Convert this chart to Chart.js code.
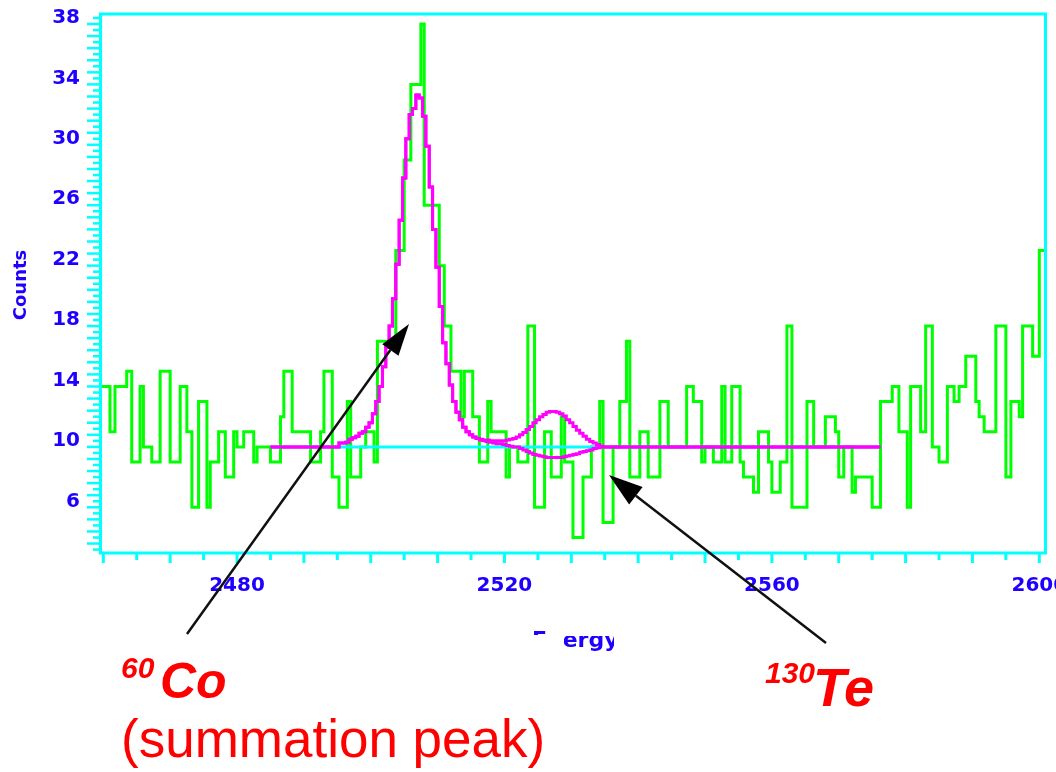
<!DOCTYPE html>
<html>
<head>
<meta charset="utf-8">
<script src="https://cdn.jsdelivr.net/npm/chart.js@4.4.1/dist/chart.umd.min.js"></script>
<style>
  html, body { margin: 0; padding: 0; background: #fff; }
  canvas { display: block; }
</style>
</head>
<body>
<canvas id="spectrum" width="1056" height="772"></canvas>
<script>
// measured counts: each run starts at an energy (keV) and keeps its count up to the next start
const runStart = [
  2459.5, 2461.0, 2461.75, 2463.5, 2464.25, 2465.5, 2466.0, 2467.25, 2468.5, 2470.0,
  2471.5, 2472.5, 2473.25, 2474.25, 2475.5, 2476.0, 2477.25, 2478.25, 2479.5, 2480.0,
  2481.0, 2482.5, 2483.0, 2485.0, 2486.5, 2487.0, 2488.25, 2491.0, 2492.5, 2493.0,
  2494.25, 2495.25, 2496.5, 2497.0, 2498.5, 2499.25, 2500.5, 2501.0, 2503.75, 2505.0,
  2506.0, 2507.5, 2508.0, 2510.25, 2511.0, 2512.0, 2513.5, 2514.0, 2515.25, 2516.25,
  2517.5, 2518.0, 2520.25, 2520.75, 2522.0, 2523.5, 2524.5, 2526.0, 2527.0, 2528.5,
  2529.0, 2530.25, 2531.75, 2533.0, 2534.25, 2534.75, 2536.25, 2537.25, 2538.25, 2538.75,
  2540.25, 2541.5, 2543.25, 2544.5, 2547.25, 2548.25, 2549.5, 2550.0, 2551.25, 2552.5,
  2553.0, 2554.0, 2555.25, 2555.75, 2557.25, 2558.0, 2559.5, 2560.0, 2561.25, 2562.25,
  2563.0, 2565.25, 2566.25, 2568.0, 2569.5, 2570.0, 2570.75, 2572.0, 2572.5, 2575.0,
  2576.25, 2578.0, 2579.0, 2580.25, 2580.75, 2582.25, 2583.0, 2584.0, 2585.0, 2586.25,
  2587.25, 2588.0, 2589.0, 2590.5, 2591.0, 2591.75, 2593.5, 2595.0, 2595.75, 2597.0,
  2597.5, 2599.0, 2600.0
];
const runCounts = [
  14, 11, 14, 15, 9, 14, 10, 9, 15, 9,
  14, 11, 6, 13, 6, 9, 11, 8, 11, 10,
  11, 9, 10, 9, 12, 15, 11, 9, 11, 15,
  8, 6, 13, 8, 10, 11, 9, 17, 23, 29,
  34, 38, 26, 22, 18, 15, 12, 15, 12, 9,
  13, 11, 8, 10, 9, 18, 6, 11, 8, 12,
  9, 4, 8, 10, 13, 5, 10, 13, 17, 8,
  11, 8, 13, 10, 14, 13, 9, 10, 9, 14,
  9, 14, 9, 8, 7, 11, 9, 7, 9, 18,
  6, 13, 10, 12, 11, 8, 10, 7, 8, 6,
  13, 14, 11, 6, 14, 11, 18, 10, 9, 14,
  13, 14, 16, 13, 12, 11, 18, 8, 13, 12,
  18, 16, 23
];
const runEnd = 2601.0;

// fitted line shape: flat background over fitRange, 0.5 keV bins around the peaks
const fitRange = [2485.0, 2576.25];
const fitBackground = 10;
const fitPeakStart = 2495.25;
const fitBinWidth = 0.5;
const fitTeUp = [
  10.25, 10.25, 10.3, 10.5, 10.6, 10.7, 10.9, 11.0, 11.3, 11.6,
  12.2, 13.0, 14.0, 15.3, 16.6, 18.0, 19.8, 22.1, 25.0, 27.8,
  30.4, 32.0, 32.4, 33.3, 33.1, 31.9, 29.9, 27.2, 24.4, 21.9,
  19.3, 16.9, 15.5, 14.1, 13.0, 12.3, 11.8, 11.3, 11.0, 10.8,
  10.65, 10.55, 10.5, 10.45, 10.45, 10.4, 10.4, 10.4, 10.4, 10.4,
  10.45, 10.5, 10.55, 10.65, 10.8, 10.95, 11.15, 11.35, 11.6, 11.8,
  12.0, 12.15, 12.3, 12.35, 12.35, 12.3, 12.2, 12.05, 11.8, 11.6,
  11.35, 11.1, 10.9, 10.7, 10.5, 10.35, 10.25, 10.15, 10.05
];
const fitTeDown = [
  10.25, 10.25, 10.3, 10.5, 10.6, 10.7, 10.9, 11.0, 11.3, 11.6,
  12.2, 13.0, 14.0, 15.3, 16.6, 18.0, 19.8, 22.1, 25.0, 27.8,
  30.4, 32.0, 32.4, 33.3, 33.1, 31.9, 29.9, 27.2, 24.4, 21.9,
  19.3, 16.9, 15.5, 14.1, 13.0, 12.3, 11.8, 11.3, 11.0, 10.8,
  10.65, 10.55, 10.45, 10.4, 10.35, 10.3, 10.25, 10.2, 10.2, 10.15,
  10.1, 10.05, 10.0, 10.0, 9.9, 9.8, 9.7, 9.6, 9.5, 9.45,
  9.4, 9.35, 9.3, 9.3, 9.3, 9.3, 9.3, 9.35, 9.4, 9.45,
  9.5, 9.55, 9.65, 9.7, 9.75, 9.8, 9.9, 9.95, 10.0
];

const xTickLabels = [2480, 2520, 2560, 2600];
const yTickLabels = [6, 10, 14, 18, 22, 26, 30, 34, 38];

const CYAN = '#00ffff';
const BLUE = '#1f00ff';

function histPoints() {
  const pts = runStart.map((e, i) => ({ x: e, y: runCounts[i] }));
  pts.push({ x: runEnd, y: runCounts[runCounts.length - 1] });
  return pts;
}

function fitPoints(values) {
  const pts = [{ x: fitRange[0], y: fitBackground }];
  values.forEach((v, i) => pts.push({ x: fitPeakStart + i * fitBinWidth, y: v }));
  pts.push({ x: fitPeakStart + values.length * fitBinWidth, y: fitBackground });
  pts.push({ x: fitRange[1], y: fitBackground });
  return pts;
}

function arrow(ctx, x0, y0, x1, y1, len, half) {
  const a = Math.atan2(y1 - y0, x1 - x0);
  const bx = x1 - len * Math.cos(a), by = y1 - len * Math.sin(a);
  ctx.beginPath();
  ctx.moveTo(x0, y0);
  ctx.lineTo(bx, by);
  ctx.stroke();
  ctx.beginPath();
  ctx.moveTo(x1, y1);
  ctx.lineTo(bx + half * Math.sin(a), by - half * Math.cos(a));
  ctx.lineTo(bx - half * Math.sin(a), by + half * Math.cos(a));
  ctx.closePath();
  ctx.fill();
}

// frame, tick marks, axis titles and the red annotations
const decorations = {
  id: 'decorations',
  afterDraw(chart) {
    const { ctx, chartArea: area, scales: { x, y } } = chart;
    ctx.save();

    ctx.strokeStyle = CYAN;
    ctx.lineWidth = 3;
    for (let e = 2460; e <= 2600; e += 5) {
      const px = x.getPixelForValue(e);
      ctx.beginPath();
      ctx.moveTo(px, area.bottom);
      ctx.lineTo(px, area.bottom + (e % 10 === 0 ? 10 : 7));
      ctx.stroke();
    }
    ctx.lineWidth = 2.5;
    for (let k = 8; k <= 96; k++) {
      const py = y.getPixelForValue(k * 0.4);
      ctx.beginPath();
      ctx.moveTo(area.left, py);
      ctx.lineTo(area.left - (k % 2 ? 13 : 7), py);
      ctx.stroke();
    }
    ctx.lineWidth = 3;
    ctx.strokeRect(area.left + 0.5, area.top, area.right - area.left - 1, area.bottom - area.top);

    // axis titles
    ctx.fillStyle = BLUE;
    ctx.font = 'bold 18px "DejaVu Sans"';
    ctx.textAlign = 'center';
    ctx.textBaseline = 'middle';
    ctx.save();
    ctx.translate(21, 285);
    ctx.rotate(-Math.PI / 2);
    ctx.fillText('Counts', 0, 0);
    ctx.restore();

    ctx.save();
    ctx.beginPath();
    ctx.rect(530, 629, 18, 6);
    ctx.rect(564, 636, 50, 20);
    ctx.clip();
    ctx.font = 'bold 22px "DejaVu Sans"';
    ctx.textAlign = 'left';
    ctx.textBaseline = 'alphabetic';
    ctx.fillText('Energy', 532, 647);
    ctx.restore();

    // arrows
    ctx.strokeStyle = '#111';
    ctx.fillStyle = '#000';
    ctx.lineWidth = 2.5;
    arrow(ctx, 187, 634, 409, 324, 32, 10);
    arrow(ctx, 826, 643, 609, 475, 34, 11);

    // labels
    ctx.fillStyle = '#ff0000';
    ctx.textAlign = 'left';
    ctx.textBaseline = 'alphabetic';
    ctx.font = 'italic bold 30px "Liberation Sans"';
    ctx.fillText('60', 121, 678);
    ctx.fillText('130', 765, 683);
    ctx.font = 'italic bold 50px "Liberation Sans"';
    ctx.fillText('Co', 160, 698);
    ctx.font = 'italic bold 54px "Liberation Sans"';
    ctx.fillText('Te', 813, 706);
    ctx.font = '53px "Liberation Sans"';
    ctx.fillText('(summation peak)', 121, 757);

    ctx.restore();
  }
};

const tickFont = { family: 'DejaVu Sans', size: 20, weight: 'bold' };

new Chart(document.getElementById('spectrum'), {
  type: 'line',
  data: {
    datasets: [
      { label: 'fit (+Te)', data: fitPoints(fitTeUp), borderColor: '#ff00ff', borderWidth: 3, stepped: 'before', pointRadius: 0, order: 0 },
      { label: 'fit (-Te)', data: fitPoints(fitTeDown), borderColor: '#ff00ff', borderWidth: 3, stepped: 'before', pointRadius: 0, order: 1 },
      { label: 'background', data: [{ x: fitRange[0], y: fitBackground }, { x: fitRange[1], y: fitBackground }], borderColor: CYAN, borderWidth: 3, pointRadius: 0, order: 2 },
      { label: 'counts', data: histPoints(), borderColor: '#00ff00', borderWidth: 3, stepped: 'before', pointRadius: 0, borderJoinStyle: 'miter', order: 3 }
    ]
  },
  options: {
    responsive: false,
    animation: false,
    devicePixelRatio: 1,
    layout: { padding: { top: 14, right: 10, left: 0, bottom: 0 } },
    plugins: { legend: { display: false }, tooltip: { enabled: false } },
    scales: {
      x: {
        type: 'linear',
        min: 2459.506,
        max: 2601.0,
        grid: { display: false, drawTicks: false },
        border: { display: false },
        afterBuildTicks: s => { s.ticks = xTickLabels.map(v => ({ value: v })); },
        afterFit: s => { s.height = 219; s.paddingLeft = 0; s.paddingRight = 0; },
        ticks: { color: BLUE, font: tickFont, padding: 21, maxRotation: 0, autoSkip: false, callback: v => String(v) }
      },
      y: {
        type: 'linear',
        min: 2.974,
        max: 38.662,
        grid: { display: false, drawTicks: false },
        border: { display: false },
        afterBuildTicks: s => { s.ticks = yTickLabels.map(v => ({ value: v })); },
        afterFit: s => { s.width = 100; s.paddingTop = 0; s.paddingBottom = 0; },
        ticks: { color: BLUE, font: tickFont, padding: 20, labelOffset: -6, callback: v => String(v) }
      }
    }
  },
  plugins: [decorations]
});
</script>
</body>
</html>
